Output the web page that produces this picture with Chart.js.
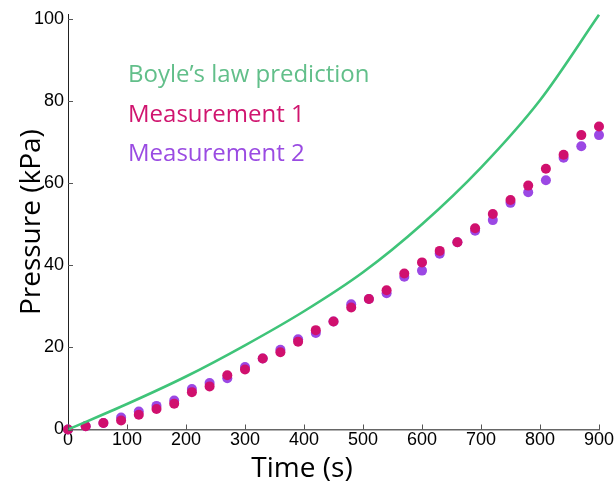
<!DOCTYPE html>
<html>
<head>
<meta charset="utf-8">
<script src="https://cdn.jsdelivr.net/npm/chart.js@4"></script>
<style>
  html, body { margin: 0; padding: 0; background: #fff; }
  #wrap { position: relative; width: 616px; height: 489px; }
</style>
</head>
<body>
<div id="wrap"><canvas id="myChart" width="616" height="489"></canvas></div>
<script>
// sample times (s)
const times = [0, 30, 60, 90, 120, 150, 180, 210, 240, 270, 300, 330, 360, 390, 420,
  450, 480, 510, 540, 570, 600, 630, 660, 690, 720, 750, 780, 810, 840, 870, 900];
const measurement1 = [0, 0.8, 1.6, 2.2, 3.6, 5.0, 6.3, 9.1, 10.5, 13.2, 14.6, 17.3, 18.8, 21.4, 24.2,
  26.3, 29.7, 31.8, 33.9, 38.0, 40.7, 43.5, 45.6, 49.0, 52.5, 55.9, 59.4, 63.5, 66.9, 71.7, 73.8];
const measurement2 = [0, 0.8, 1.6, 2.9, 4.4, 5.75, 7.05, 9.85, 11.3, 12.5, 15.2, 17.3, 19.4, 22.0, 23.5,
  26.3, 30.5, 31.8, 33.2, 37.2, 38.7, 42.8, 45.6, 48.4, 51.0, 55.2, 57.8, 60.7, 66.2, 69.0, 71.7];
// prediction curve
const boyleTimes = [0, 100, 200, 300, 400, 500, 600, 700, 800, 900];
const boyle = [0, 6.2, 12.9, 20.5, 28.8, 38.3, 50.0, 63.8, 80.2, 101];

const xTicks = [0, 100, 200, 300, 400, 500, 600, 700, 800, 900];
const yTicks = [0, 20, 40, 60, 80, 100];

const legendItems = [
  { text: 'Boyle\u2019s law prediction', color: '#62BF8A' },
  { text: 'Measurement 1', color: '#D0156F' },
  { text: 'Measurement 2', color: '#9A4BE2' },
];

const toXY = (xs, ys) => xs.map((x, i) => ({ x: x, y: ys[i] }));

// inward ticks, axis titles and the text legend
const decor = {
  id: 'decor',
  afterDraw(chart) {
    const { ctx, scales: { x, y }, chartArea } = chart;
    ctx.save();
    ctx.strokeStyle = '#555';
    ctx.lineWidth = 1;
    xTicks.forEach(v => {
      const px = Math.round(x.getPixelForValue(v)) + 0.5;
      ctx.beginPath();
      ctx.moveTo(px, chartArea.bottom);
      ctx.lineTo(px, chartArea.bottom - 5);
      ctx.stroke();
    });
    yTicks.forEach(v => {
      const py = Math.round(y.getPixelForValue(v)) + 0.5;
      ctx.beginPath();
      ctx.moveTo(chartArea.left, py);
      ctx.lineTo(chartArea.left + 5, py);
      ctx.stroke();
    });

    ctx.fillStyle = '#000';
    ctx.font = '28px "Open Sans"';
    ctx.textAlign = 'center';
    ctx.textBaseline = 'alphabetic';
    ctx.fillText('Time (s)', 302, 477);

    ctx.translate(40, (chartArea.top + chartArea.bottom) / 2);
    ctx.rotate(-Math.PI / 2);
    ctx.fillText('Pressure (kPa)', 0, 0);
    ctx.restore();

    ctx.save();
    ctx.font = '24px "Open Sans"';
    ctx.textAlign = 'left';
    ctx.textBaseline = 'alphabetic';
    legendItems.forEach((item, i) => {
      ctx.fillStyle = item.color;
      ctx.fillText(item.text, 128, 82 + i * 39.5);
    });
    ctx.restore();
  }
};

const ctx = document.getElementById('myChart').getContext('2d');
const myChart = new Chart(ctx, {
  type: 'scatter',
  data: {
    datasets: [
      {
        label: 'Measurement 1',
        data: toXY(times, measurement1),
        backgroundColor: '#D0106E',
        borderWidth: 0,
        pointRadius: 5,
        clip: false,
        order: 1,
      },
      {
        label: 'Measurement 2',
        data: toXY(times, measurement2),
        backgroundColor: '#9B48E4',
        borderWidth: 0,
        pointRadius: 5,
        clip: false,
        order: 2,
      },
      {
        type: 'line',
        label: 'Boyle\u2019s law prediction',
        data: toXY(boyleTimes, boyle),
        borderColor: '#3FC479',
        borderWidth: 2.6,
        pointRadius: 0,
        cubicInterpolationMode: 'monotone',
        clip: false,
        order: 0,
      },
    ],
  },
  options: {
    responsive: false,
    animation: false,
    layout: { padding: { top: 11, right: 17, left: 0, bottom: 0 } },
    plugins: {
      legend: { display: false },
      tooltip: { enabled: false },
    },
    scales: {
      x: {
        type: 'linear',
        min: 0,
        max: 900,
        afterBuildTicks: s => { s.ticks = xTicks.map(v => ({ value: v })); },
        afterFit: s => { s.height = 59.5; },
        grid: { drawOnChartArea: false, drawTicks: false },
        border: { color: '#666', width: 1.5 },
        ticks: { color: '#000', font: { family: '"Liberation Sans", Arial', size: 18 }, padding: 0, maxRotation: 0 },
      },
      y: {
        min: 0,
        max: 101,
        afterBuildTicks: s => { s.ticks = yTicks.map(v => ({ value: v })); },
        afterFit: s => { s.width = 68; },
        grid: { drawOnChartArea: false, drawTicks: false },
        border: { color: '#222', width: 1 },
        ticks: { color: '#000', font: { family: '"Liberation Sans", Arial', size: 18 }, padding: 4 },
      },
    },
  },
  plugins: [decor],
});
</script>
</body>
</html>
